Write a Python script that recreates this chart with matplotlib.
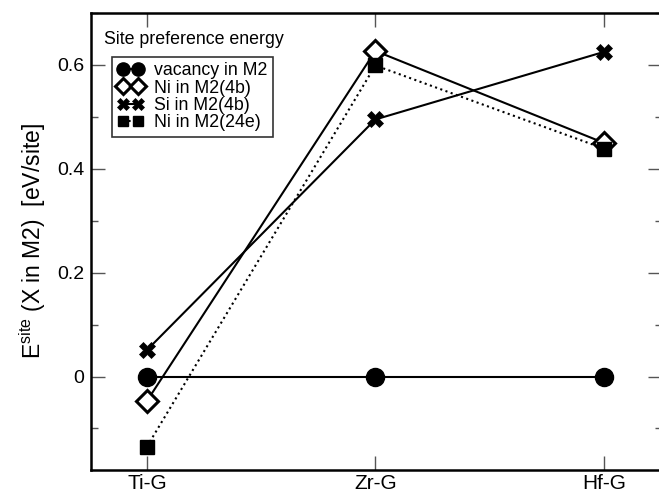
import numpy as np
import matplotlib.pyplot as plt
from matplotlib.ticker import MultipleLocator

plt.rcParams['font.family'] = ['Liberation Sans', 'DejaVu Sans']
plt.rcParams['mathtext.fontset'] = 'custom'
plt.rcParams['mathtext.rm'] = 'Liberation Sans'

categories = ['Ti-G', 'Zr-G', 'Hf-G']
vacancy = [0.0, 0.0, 0.0]
ni_4b = [-0.047, 0.627, 0.450]
si_4b = [0.051, 0.495, 0.625]
ni_24e = [-0.135, 0.599, 0.439]

x = np.arange(len(categories))

fig = plt.figure(figsize=(6.59, 4.96), dpi=100)
ax = fig.add_axes([91/659, 26/496, 571/659, 457/496])

ax.plot(x, vacancy, '-', color='k', lw=1.5, marker='o', ms=13, mfc='k', mec='k',
        label='vacancy in M2')
ax.plot(x, ni_4b, '-', color='k', lw=1.5, marker='D', ms=11, mfc='white', mec='k',
        mew=2.2, label='Ni in M2(4b)')
ax.plot(x, si_4b, '-', color='k', lw=1.5, marker='X', ms=12, mfc='k', mec='k',
        mew=0.5, label='Si in M2(4b)')
ax.plot(x, ni_24e, ':', color='k', lw=1.5, marker='s', ms=9.5, mfc='k', mec='k',
        label='Ni in M2(24e)')

ax.set_xlim(-0.245, 2.255)
ax.set_ylim(-0.18, 0.70)
ax.set_xticks(x)
ax.set_xticklabels(categories)
ax.set_yticks([0, 0.2, 0.4, 0.6])
ax.set_yticklabels(['0', '0.2', '0.4', '0.6'])
ax.yaxis.set_minor_locator(MultipleLocator(0.1))
ax.tick_params(which='both', direction='in', top=True, right=True, labelsize=14,
               width=1, color='#555555')
ax.tick_params(which='major', length=10)
ax.tick_params(which='minor', length=5)
ax.tick_params(axis='y', pad=5)
ax.tick_params(axis='x', pad=3, labelsize=15)
for s in ax.spines.values():
    s.set_linewidth(1.8)

ax.set_ylabel(r'E$^{\mathrm{site}}$ (X in M2)  [eV/site]', fontsize=16.5, labelpad=6)

ax.text(0.023, 0.941, 'Site preference energy', transform=ax.transAxes,
        fontsize=12.8, va='center', ha='left')
leg = ax.legend(loc='upper left', bbox_to_anchor=(0.037, 0.904), numpoints=2,
                fontsize=12.8, frameon=True, fancybox=False, edgecolor='k',
                markerscale=0.73, handlelength=1.45, handletextpad=0.6,
                labelspacing=0.02, borderpad=0.3, borderaxespad=0)
leg.get_frame().set_linewidth(1.2)

fig.savefig('out.png', dpi=100)
